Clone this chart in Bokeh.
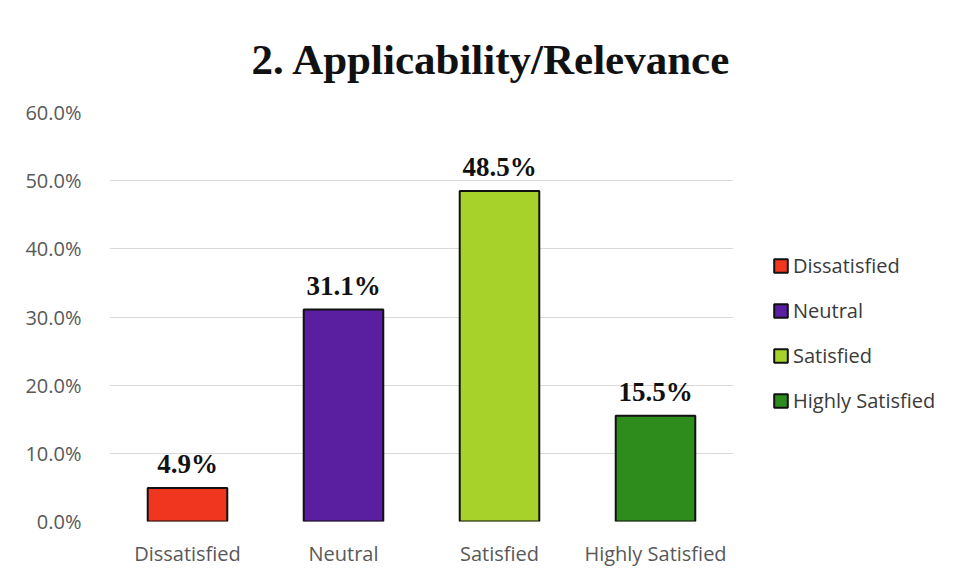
from bokeh.plotting import figure
from bokeh.models import (ColumnDataSource, FixedTicker, NumeralTickFormatter, Legend,
                          LegendItem, Title, FactorRange, Range1d)
from bokeh.layouts import row
from bokeh.embed import file_html
from bokeh.resources import INLINE
from bokeh.core.properties import value

categories = ["Dissatisfied", "Neutral", "Satisfied", "Highly Satisfied"]
values = [0.049, 0.311, 0.485, 0.155]
labels = ["4.9%", "31.1%", "48.5%", "15.5%"]
colors = ["#f0361e", "#5a1ea0", "#a6d22a", "#2e8c1c"]
y_ticks = [0.0, 0.1, 0.2, 0.3, 0.4, 0.5, 0.6]
title_text = "2. Applicability/Relevance"

TICK_FONT = "Open Sans"

src = ColumnDataSource(dict(cat=categories, val=values, lab=labels, col=colors))

p = figure(width=760, height=569, x_range=FactorRange(*categories, range_padding=0),
           y_range=Range1d(0, 0.6), output_backend="svg", toolbar_location=None,
           min_border_left=109, min_border_right=27, min_border_top=112, min_border_bottom=46)
p.outline_line_color = None
p.background_fill_color = "white"
p.border_fill_color = "white"

r = p.vbar(x="cat", top="val", width=0.51, source=src, fill_color="col",
           line_color="#111111", line_width=2)

p.text(x="cat", y="val", text="lab", source=src, text_align="center",
       text_baseline="bottom", y_offset=-9, text_font=value("Liberation Serif"),
       text_font_style="bold", text_font_size="27px", text_color="#111111")

p.yaxis.ticker = FixedTicker(ticks=y_ticks)
p.yaxis.formatter = NumeralTickFormatter(format="0.0%")
for ax in (p.xaxis, p.yaxis):
    ax.axis_line_color = None
    ax.major_tick_line_color = None
    ax.minor_tick_line_color = None
    ax.major_label_text_font = TICK_FONT
    ax.major_label_text_font_size = "20px"
    ax.major_label_text_color = "#595959"
p.yaxis.major_label_standoff = 22
p.xaxis.major_label_standoff = 12
p.xgrid.grid_line_color = None
p.ygrid.grid_line_color = "#d9d9d9"
p.ygrid.grid_line_width = 1

title = Title(text=title_text, align="left", offset=142, standoff=60,
              text_font="Liberation Serif", text_font_style="bold",
              text_font_size="43px", text_color="#111111")
p.add_layout(title, "above")

# legend panel
q = figure(width=186, height=569, x_range=FactorRange(*categories),
           y_range=Range1d(0, 1), output_backend="svg", toolbar_location=None,
           min_border_left=0, min_border_right=0, min_border_top=0, min_border_bottom=0,
           x_axis_location=None, y_axis_location=None)
q.outline_line_color = None
q.xgrid.grid_line_color = None
q.ygrid.grid_line_color = None
r2 = q.vbar(x="cat", top="val", width=0.51, source=src, fill_color="col",
            line_color="#111111", line_width=2)
r2.visible = False

items = [LegendItem(label=c, renderers=[r2], index=i) for i, c in enumerate(categories)]
legend = Legend(items=items, location=(12, 107), orientation="vertical",
                glyph_width=17, glyph_height=17, label_standoff=4, spacing=18,
                padding=0, margin=0, border_line_color=None, background_fill_alpha=0,
                inactive_fill_alpha=0,
                label_text_font=TICK_FONT, label_text_font_size="20px",
                label_text_color="#3a3a3a")
q.add_layout(legend)

layout = row(p, q, spacing=0)
open("out.html", "w").write(file_html(layout, INLINE))
